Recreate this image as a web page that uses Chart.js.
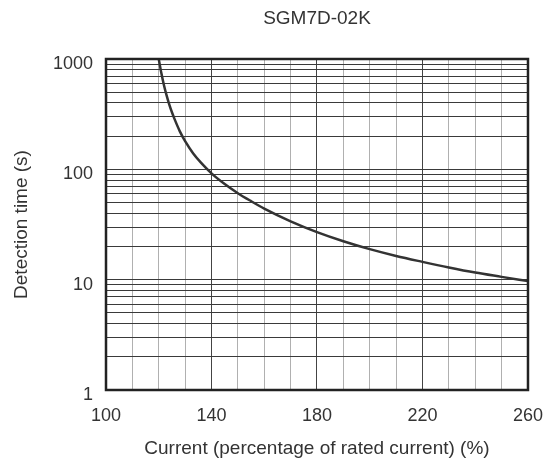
<!DOCTYPE html>
<html>
<head>
<meta charset="utf-8">
<script src="https://cdn.jsdelivr.net/npm/chart.js@4/dist/chart.umd.min.js"></script>
<style>
    html, body { margin: 0; padding: 0; background: #fff; }
    #wrap { width: 558px; height: 470px; }
</style>
</head>
<body>
<div id="wrap"><canvas id="chart"></canvas></div>
<script>
// 过载检测曲线 SGM7D-02K
const currentPct = [120, 121, 122, 123, 124, 125, 126, 128, 130, 133, 136, 140, 145, 150, 155, 160, 170, 180, 190, 200, 210, 220, 230, 240, 250, 260];
const detectTime = [1000, 741, 575, 465, 386, 329, 285, 221, 180, 140, 115, 92, 73.6, 60.8, 51.5, 44.1, 33.8, 27, 22.3, 18.9, 16.4, 14.5, 12.9, 11.6, 10.6, 9.7];

const xLabels = [100, 140, 180, 220, 260];
const yLabels = [1, 10, 100, 1000];
const yDecades = [1, 10, 100];
const yMultipliers = [1, 2, 3, 4, 5, 6, 7, 8, 9];

const textColor = '#333';
const fontFamily = '"Liberation Sans", Arial, Helvetica, sans-serif';

const frame = {
    id: 'frame',
    afterDraw(chart) {
        const { ctx, chartArea: a } = chart;
        ctx.save();
        ctx.strokeStyle = '#222';
        ctx.lineWidth = 2.5;
        ctx.strokeRect(a.left, a.top, a.right - a.left, a.bottom - a.top);
        ctx.restore();
    }
};

new Chart(document.getElementById('chart').getContext('2d'), {
    type: 'line',
    data: {
        datasets: [{
            data: currentPct.map((x, i) => ({ x, y: detectTime[i] })),
            borderColor: '#333',
            borderWidth: 2.5,
            pointRadius: 0,
            cubicInterpolationMode: 'monotone',
            fill: false
        }]
    },
    options: {
        responsive: true,
        maintainAspectRatio: false,
        animation: false,
        layout: { padding: { left: 0, right: 30, top: 0, bottom: 0 } },
        plugins: {
            legend: { display: false },
            tooltip: { enabled: false },
            title: {
                display: true,
                text: 'SGM7D-02K',
                fullSize: false,
                color: textColor,
                font: { family: fontFamily, size: 19, weight: 'normal' },
                padding: { top: 7.5, bottom: 28.7 }
            }
        },
        scales: {
            x: {
                type: 'linear',
                min: 100,
                max: 260,
                afterFit: s => { s.height = 80; },
                ticks: {
                    stepSize: 10,
                    autoSkip: false,
                    maxRotation: 0,
                    padding: 15,
                    color: textColor,
                    font: { family: fontFamily, size: 18 },
                    callback: v => xLabels.includes(v) ? String(v) : ''
                },
                grid: {
                    drawTicks: false,
                    lineWidth: 1,
                    color: c => xLabels.includes(c.tick && c.tick.value) ? '#444' : '#b0b0b0'
                },
                border: { display: false },
                title: {
                    display: true,
                    text: 'Current (percentage of rated current) (%)',
                    color: textColor,
                    font: { family: fontFamily, size: 19 },
                    padding: { top: 0, bottom: 9.5 }
                }
            },
            y: {
                type: 'logarithmic',
                min: 1,
                max: 1000,
                afterFit: s => { s.width = 106; },
                afterBuildTicks: s => {
                    const vals = [];
                    yDecades.forEach(d => yMultipliers.forEach(m => vals.push(d * m)));
                    vals.push(1000);
                    s.ticks = vals.map(v => ({ value: v }));
                },
                ticks: {
                    autoSkip: false,
                    padding: 13,
                    labelOffset: 5,
                    color: textColor,
                    font: { family: fontFamily, size: 18 },
                    callback: v => yLabels.includes(v) ? String(v) : ''
                },
                grid: {
                    drawTicks: false,
                    lineWidth: 1,
                    color: '#3a3a3a'
                },
                border: { display: false },
                title: {
                    display: true,
                    text: 'Detection time (s)',
                    color: textColor,
                    font: { family: fontFamily, size: 19 },
                    padding: { top: 10.5, bottom: 0 }
                }
            }
        }
    },
    plugins: [frame]
});
</script>
</body>
</html>
